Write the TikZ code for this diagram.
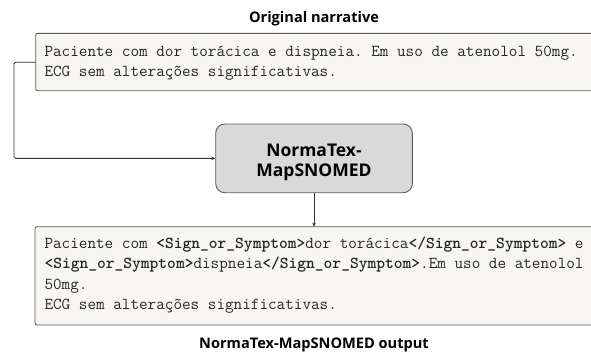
\documentclass[tikz,border=0pt]{standalone}
\usepackage{fontspec}
\setsansfont{Open Sans}
\usetikzlibrary{arrows.meta}
\frenchspacing
\definecolor{boxfill}{HTML}{F7F6F2}
\definecolor{boxline}{HTML}{5A5A5A}
\definecolor{toolfill}{HTML}{D9D9D9}
\definecolor{linkline}{HTML}{333333}
\tikzset{
  textbox/.style={draw=boxline, line width=0.9pt, fill=boxfill, rounded corners=2pt},
  toolbox/.style={draw=boxline, line width=0.9pt, fill=toolfill, rounded corners=9pt},
  title/.style={font=\sffamily\bfseries\fontsize{14.6}{16}\selectfont, inner sep=0pt, anchor=base},
  tooltext/.style={font=\sffamily\bfseries\fontsize{17.5}{19}\selectfont, inner sep=0pt, anchor=base},
  mono/.style={font=\ttfamily\fontsize{16.7}{18}\selectfont, inner sep=0pt, anchor=base west, text=black!85},
  link/.style={draw=linkline, line width=0.8pt, -{Stealth[length=4pt,width=3.5pt]}}
}
\begin{document}
\begin{tikzpicture}[x=1pt,y=-1pt]
  \clip (0,0) rectangle (591,354);
  \fill[white] (0,0) rectangle (591,354);

  % input narrative
  \node[title] (t1) at (314,22.3) {Original narrative};
  \draw[textbox] (35.7,33.3) rectangle (620,90.7);
  \coordinate (inL) at (35.7,62.3);
  \node[mono] (a1) at (44.3,56) {Paciente com dor torácica e dispneia. Em uso de atenolol 50mg.};
  \node[mono] (a2) at (44.3,76) {ECG sem alterações significativas.};

  % the tool
  \node[toolbox, minimum width=196.6pt, minimum height=68.7pt] (tool) at (314,158.35) {};
  \node[tooltext] (tl1) at (314,156) {NormaTex-};
  \node[tooltext] (tl2) at (314,176.5) {MapSNOMED};

  % annotated output
  \draw[textbox] (35,226.7) rectangle (620,325);
  \coordinate (outT) at (314,226.7);
  \node[mono] (b1) at (44.3,248.5) {Paciente com \textbf{<Sign\_or\_Symptom>}dor torácica\textbf{</Sign\_or\_Symptom>} e};
  \node[mono] (b2) at (44.3,268.8) {\textbf{<Sign\_or\_Symptom>}dispneia\textbf{</Sign\_or\_Symptom>}.Em uso de atenolol};
  \node[mono] (b3) at (44.3,289.1) {50mg.};
  \node[mono] (b4) at (44.3,309.4) {ECG sem alterações significativas.};
  \node[title] (t2) at (314,348.3) {NormaTex-MapSNOMED output};

  % connectors
  \draw[link, rounded corners=1.5pt] (inL) -- (14,62.3) |- (tool.west);
  \draw[link] (tool.south -| outT) -- (outT);
\end{tikzpicture}
\end{document}
